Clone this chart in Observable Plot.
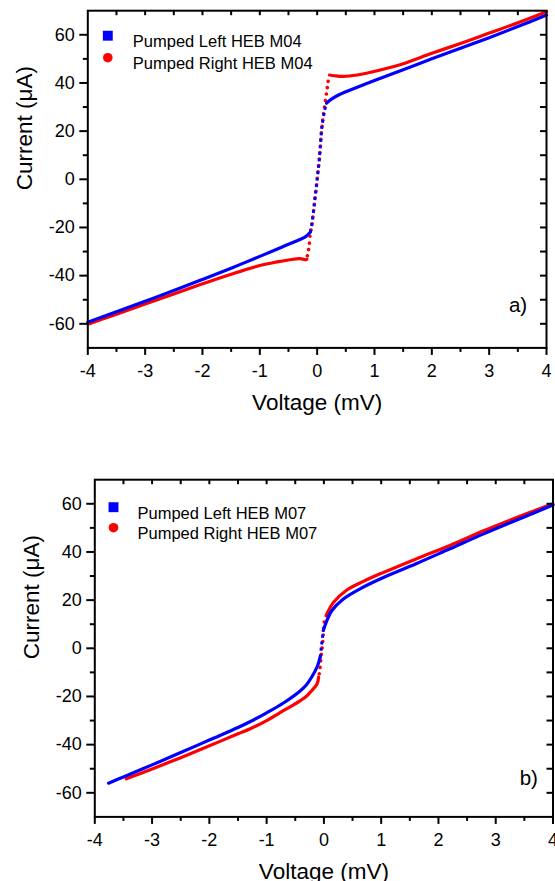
<!DOCTYPE html>
<html><head><meta charset="utf-8">
<script src="https://cdn.jsdelivr.net/npm/d3@7"></script>
<script src="https://cdn.jsdelivr.net/npm/@observablehq/plot@0.6"></script>
<style>
html,body{margin:0;padding:0;background:#fff;overflow:hidden;}
#wrap{position:relative;width:555px;height:881px;overflow:hidden;background:#fff;}
#wrap svg{position:absolute;left:0;}
</style></head><body><div id="wrap"></div>
<script>
// ---------- data ----------
const legendA = ["Pumped Left HEB M04", "Pumped Right HEB M04"];
const legendB = ["Pumped Left HEB M07", "Pumped Right HEB M07"];
const panelTags = ["a)", "b)"];
const xTitle = "Voltage (mV)";
const yTitle = "Current (\u03bcA)";

const xMajor = [-4, -3, -2, -1, 0, 1, 2, 3, 4];
const xMajorLabels = ["-4", "-3", "-2", "-1", "0", "1", "2", "3", "4"];
const xMinor = [-3.5, -2.5, -1.5, -0.5, 0.5, 1.5, 2.5, 3.5];
const xTop = [-3.5, -3, -2.5, -2, -1.5, -1, -0.5, 0, 0.5, 1, 1.5, 2, 2.5, 3, 3.5];
const yMajor = [-60, -40, -20, 0, 20, 40, 60];
const yMajorLabels = ["-60", "-40", "-20", "0", "20", "40", "60"];
const yMinor = [-50, -30, -10, 10, 30, 50];
const yRight = [-60, -50, -40, -30, -20, -10, 0, 10, 20, 30, 40, 50, 60];

// Panel a) — M04
const aLeftV = [-4, -3.5, -3, -2.5, -2, -1.5, -1, -0.6, -0.3, -0.2, -0.12, -0.1, -0.05, 0, 0.04, 0.076, 0.09, 0.13, 0.165, 0.25, 0.4, 0.6, 0.8, 1.0, 1.5, 2.0, 2.5, 3.0, 3.5, 4.0];
const aLeftI = [-59.4, -55.0, -50.6, -46.2, -41.6, -36.9, -32.0, -28.0, -25.0, -23.8, -22.0, -20.0, -10.5, 0, 9, 20, 23, 28.5, 31.6, 33.3, 35.3, 37.3, 39.2, 41.0, 45.5, 50.0, 54.4, 58.8, 63.4, 68.2];
const aLeftJump = [-0.12, 0.165];

const aRightV = [-4, -3.5, -3, -2.5, -2, -1.5, -1, -0.7, -0.5, -0.3, -0.2, -0.18, -0.165, -0.14, -0.12, -0.1, -0.05, 0, 0.04, 0.076, 0.1, 0.14, 0.17, 0.19, 0.215, 0.3, 0.45, 0.7, 1.1, 1.5, 2.0, 2.5, 3.0, 3.5, 4.0];
const aRightI = [-60.2, -56.0, -51.8, -47.6, -43.4, -39.4, -35.8, -34.3, -33.5, -32.9, -33.4, -33.2, -30.8, -28.0, -22.4, -20.0, -10.5, 0, 9, 20, 25, 32, 37, 40.5, 43.3, 43.0, 42.7, 43.3, 45.4, 48.0, 52.3, 56.4, 60.7, 65.0, 69.6];
const aRightJump = [-0.18, 0.215];

// Panel b) — M07
const bLeftV = [-3.76, -3.5, -3.0, -2.5, -2.0, -1.5, -1.3, -1.0, -0.7, -0.41, -0.3, -0.21, -0.12, -0.065, -0.045, -0.01, 0.04, 0.14, 0.34, 0.63, 1.0, 1.6, 2.2, 2.8, 3.4, 4.0];
const bLeftI = [-56.0, -53.4, -48.4, -43.3, -38.1, -32.9, -30.6, -26.8, -22.6, -17.6, -15.0, -11.8, -7.8, -3.7, 0.5, 7.4, 10.8, 15.7, 20.5, 24.7, 29.0, 35.0, 41.3, 47.6, 53.6, 59.5];
const bLeftJump = [-0.065, -0.01];

const bRightV = [-3.45, -3.0, -2.5, -2.0, -1.5, -1.285, -1.0, -0.7, -0.41, -0.3, -0.21, -0.12, -0.093, -0.076, -0.047, -0.018, 0.005, 0.052, 0.17, 0.4, 0.69, 1.0, 1.6, 2.2, 2.8, 3.4, 4.0];
const bRightI = [-54.2, -50.1, -45.4, -40.5, -35.5, -33.4, -30.0, -25.8, -21.7, -19.8, -17.5, -14.8, -12.0, -9.9, -3.0, 3.2, 10.8, 14.3, 19.1, 24.2, 27.8, 31.1, 37.0, 42.7, 48.9, 54.6, 60.0];
const bRightJump = [-0.093, 0.052];

// ---------- drawing ----------
const BLUE = "#0000ff", RED = "#ff0000";
const rows = (V, I) => V.map((v, k) => ({v, i: I[k]}));

function curveMarks(V, I, jump, color, isRed) {
  const r = rows(V, I);
  const base = {x: "v", y: "i", stroke: color, strokeWidth: 3.2, curve: "catmull-rom"};
  return [
    Plot.line(r.filter(d => d.v <= jump[0]), base),
    Plot.line(r.filter(d => d.v >= jump[0] && d.v <= jump[1]), {
      ...base,
      strokeWidth: isRed ? 3.6 : 3,
      strokeDasharray: isRed ? "0.01,6.5" : "3,3.5",
      strokeLinecap: isRed ? "round" : "butt",
      strokeDashoffset: isRed ? 3 : 0
    }),
    Plot.line(r.filter(d => d.v >= jump[1]), base)
  ];
}

function panel(cfg) {
  const {W, H, mL, mR, mT, mB} = cfg;
  const pw = W - mL - mR, ph = H - mT - mB;
  const blank = () => "";
  return Plot.plot({
    width: W, height: H,
    marginLeft: mL, marginRight: mR, marginTop: mT, marginBottom: mB,
    x: {domain: [-4, 4]},
    y: {domain: [-70, 70]},
    style: {fontFamily: "'Liberation Sans', Arial, sans-serif", fontSize: "18px", background: "white", color: "black", overflow: "visible"},
    marks: [
      ...curveMarks(cfg.rV, cfg.rI, cfg.rJ, RED, true),
      ...curveMarks(cfg.lV, cfg.lI, cfg.lJ, BLUE, false),
      Plot.frame({strokeWidth: 2}),
      Plot.axisY({anchor: "left", ticks: yMajor, tickSize: 8, tickPadding: 5, strokeWidth: 2, label: null, fontSize: 18,
        tickFormat: d => yMajorLabels[yMajor.indexOf(d)]}),
      Plot.axisY({anchor: "left", ticks: yMinor, tickSize: 4.5, strokeWidth: 2, label: null, tickFormat: blank}),
      Plot.axisX({anchor: "bottom", ticks: xMajor, tickSize: 7.5, tickPadding: 9, strokeWidth: 2, label: null, fontSize: 18,
        tickFormat: d => xMajorLabels[xMajor.indexOf(d)]}),
      Plot.axisX({anchor: "bottom", ticks: xMinor, tickSize: 4.5, strokeWidth: 2, label: null, tickFormat: blank}),
      // inward ticks on the top and right edges
      Plot.axisX({anchor: "bottom", ticks: xTop, tickSize: 5, dy: -ph, strokeWidth: 2, label: null, tickFormat: blank}),
      Plot.axisY({anchor: "left", ticks: yRight, tickSize: 6, dx: pw, strokeWidth: 2, label: null, tickFormat: blank}),
      // axis titles
      Plot.text([xTitle], {text: d => d, frameAnchor: "bottom", dy: 61.6, fontSize: 22.5}),
      Plot.text([yTitle], {text: d => d, frameAnchor: "left", rotate: -90, dx: cfg.yTitleDx, dy: 11, fontSize: 22.5}),
      // legend
      Plot.dot([cfg.legend[0]], {frameAnchor: "top-left", dx: cfg.lgDx, dy: cfg.lgDy[0], symbol: "square", fill: BLUE, r: 5.6}),
      Plot.dot([cfg.legend[1]], {frameAnchor: "top-left", dx: cfg.lgDx, dy: cfg.lgDy[1], symbol: "circle", fill: RED, r: 4.8}),
      Plot.text([cfg.legend[0]], {text: d => d, frameAnchor: "top-left", dx: cfg.lgTx, dy: cfg.lgDy[0], textAnchor: "start", fontSize: 16.5}),
      Plot.text([cfg.legend[1]], {text: d => d, frameAnchor: "top-left", dx: cfg.lgTx, dy: cfg.lgDy[1], textAnchor: "start", fontSize: 16.5}),
      // panel tag
      Plot.text([cfg.tag], {text: d => d, frameAnchor: "bottom-right", dx: cfg.tagDx, dy: cfg.tagDy, textAnchor: "end", fontSize: 20.5})
    ]
  });
}

const wrap = document.getElementById("wrap");

const svgA = panel({
  W: 555, H: 440, mL: 87.3, mR: 9, mT: 10.2, mB: 92.6,
  lV: aLeftV, lI: aLeftI, lJ: aLeftJump,
  rV: aRightV, rI: aRightI, rJ: aRightJump,
  legend: legendA, lgDx: 20, lgDy: [25, 47], lgTx: 45,
  tag: panelTags[0], tagDx: -19.3, tagDy: -36.4,
  yTitleDx: -63.3
});
svgA.style.top = "0px";
wrap.appendChild(svgA);

const svgB = panel({
  W: 555, H: 460, mL: 94.3, mR: 2.5, mT: 39.2, mB: 83.6,
  lV: bLeftV, lI: bLeftI, lJ: bLeftJump,
  rV: bRightV, rI: bRightI, rJ: bRightJump,
  legend: legendB, lgDx: 18.7, lgDy: [27.5, 48], lgTx: 42.7,
  tag: panelTags[1], tagDx: -15.1, tagDy: -32.4,
  yTitleDx: -63.3
});
svgB.style.top = "440px";
wrap.appendChild(svgB);
</script></body></html>
